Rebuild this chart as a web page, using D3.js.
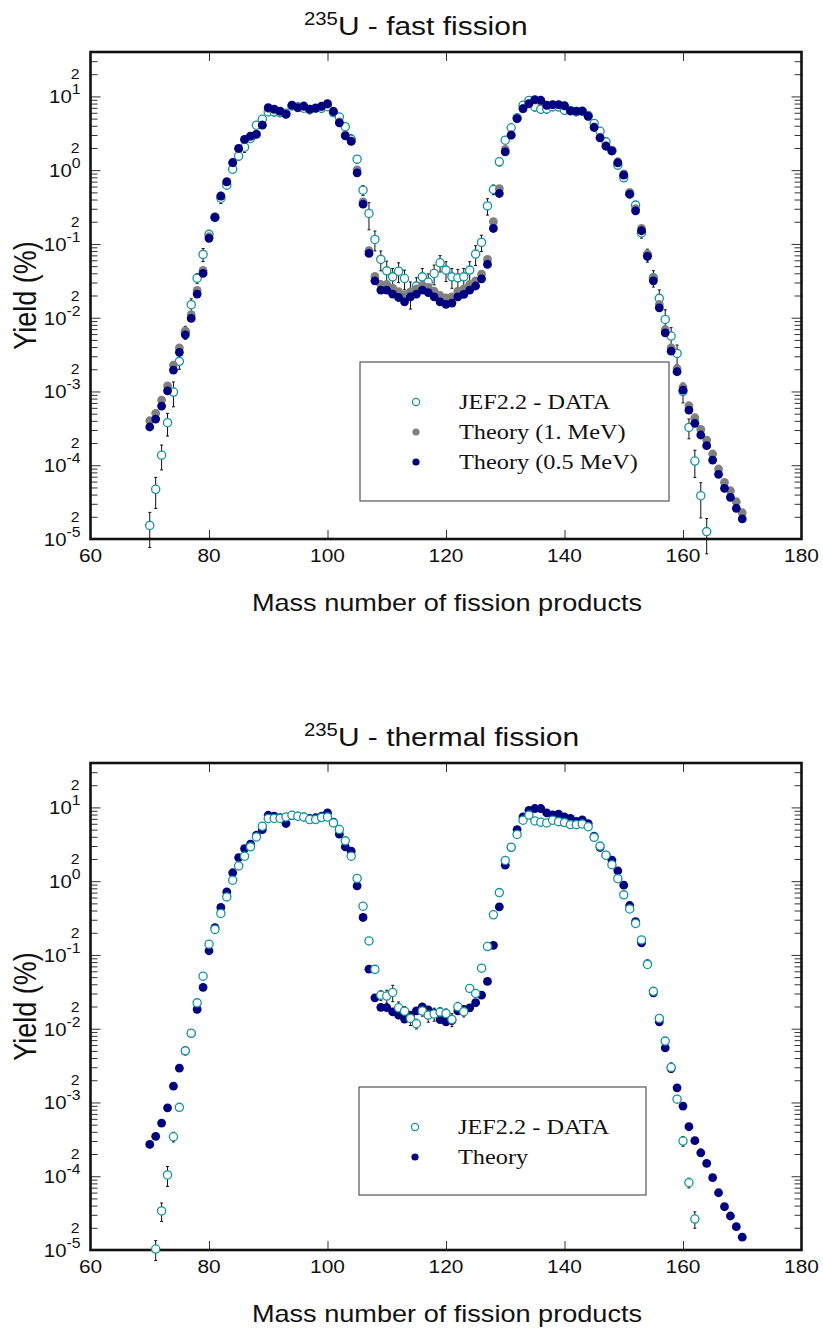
<!DOCTYPE html>
<html lang="en">
<head>
<meta charset="UTF-8">
<script src="https://d3js.org/d3.v7.min.js"></script>
<title>235U fission yields</title>
<style>
  body { margin:0; background:#fff; }
  svg { display:block; }
  .lab { font-family: "Liberation Sans", Arial, Helvetica, sans-serif; fill:#111; }
  .legend text { font-family: "Liberation Serif", "Times New Roman", serif; fill:#111; }
  .ticks line { stroke:#333; stroke-width:1; }
  .frame { fill:none; stroke:#111; stroke-width:2.6; }
</style>
</head>
<body>
<svg id="chart" width="823" height="1330"></svg>
<script>
// x axis ticks and y decades
const xTicks = [60, 80, 100, 120, 140, 160, 180];
const yDecades = [-5, -4, -3, -2, -1, 0, 1];

// 235U fast fission, JEF2.2 data, A = 70..164 (yield %)
const fastJefStart = 70;
const fastJef = [1.53e-5, 4.72e-5, 1.37e-4, 3.77e-4, 9.82e-4, 2.56e-3, 6.38e-3, 0.0150, 0.0344, 0.0721,
  0.135, 0.229, 0.417, 0.627, 1.03, 1.55, 2.05, 2.69, 4.07, 4.90,
  6.17, 6.17, 6.03, 5.89, 7.41, 7.24, 6.92, 6.61, 6.92, 6.92,
  7.24, 6.03, 5.25, 3.89, 2.63, 1.41, 0.536, 0.259, 0.115, 0.0617,
  0.0432, 0.0358, 0.0427, 0.0340, 0.0218, 0.0268, 0.0358, 0.0302, 0.0398, 0.0555,
  0.0442, 0.0358, 0.0347, 0.0358, 0.0442, 0.0728, 0.105, 0.328, 0.547, 1.30,
  2.55, 3.76, 5.13, 7.59, 8.83, 7.21, 6.71, 6.76, 7.21, 7.21,
  6.50, 6.46, 6.17, 6.31, 5.50, 4.30, 3.37, 2.42, 1.84, 1.17,
  0.787, 0.479, 0.336, 0.141, 0.0708, 0.0347, 0.0183, 9.48e-3, 5.64e-3, 3.28e-3,
  1.0e-3, 3.26e-4, 1.14e-4, 3.86e-5, 1.26e-5];
// relative uncertainty of the JEF points
const fastJefErr = [0.5, 0.45, 0.37, 0.34, 0.37, 0.22, 0.2, 0.2, 0.15, 0.2,
  0.12, 0.1, 0.15, 0.1, 0.1, 0.12, 0.15, 0.12, 0.1, 0.08,
  0.1, 0.12, 0.12, 0.1, 0.08, 0.1, 0.08, 0.12, 0.08, 0.12,
  0.08, 0.1, 0.08, 0.1, 0.15, 0.12, 0.15, 0.4, 0.3, 0.3,
  0.35, 0.3, 0.3, 0.3, 0.4, 0.3, 0.3, 0.3, 0.3, 0.25,
  0.3, 0.3, 0.3, 0.3, 0.3, 0.3, 0.25, 0.25, 0.15, 0.12,
  0.1, 0.1, 0.08, 0.08, 0.08, 0.12, 0.12, 0.12, 0.1, 0.1,
  0.12, 0.1, 0.1, 0.1, 0.1, 0.1, 0.1, 0.12, 0.1, 0.1,
  0.1, 0.12, 0.12, 0.15, 0.2, 0.25, 0.3, 0.35, 0.3, 0.3,
  0.3, 0.3, 0.4, 0.5, 0.5];

// theory, A = 70..170
const theoryStart = 70;
const fastTheory1 = [4.01e-4, 5.05e-4, 7.64e-4, 1.19e-3, 2.28e-3, 3.91e-3, 6.64e-3, 0.0110, 0.0234, 0.0437,
  0.126, 0.234, 0.45, 0.70, 1.26, 1.95, 2.58, 2.88, 3.10, 4.10,
  6.90, 6.60, 6.30, 5.80, 7.50, 7.00, 7.30, 6.70, 6.90, 7.30,
  7.80, 6.30, 4.50, 3.00, 2.50, 1.01, 0.372, 0.0813, 0.0363, 0.0282,
  0.0282, 0.0251, 0.0226, 0.0200, 0.0224, 0.0245, 0.0275, 0.0257, 0.0229, 0.0200,
  0.0186, 0.0191, 0.0229, 0.0245, 0.0282, 0.0316, 0.0389, 0.0617, 0.200, 0.562,
  1.91, 3.02, 5.00, 6.80, 7.90, 8.90, 8.70, 7.50, 7.70, 7.70,
  7.40, 6.30, 6.30, 6.30, 5.40, 3.85, 2.80, 2.15, 1.87, 1.30,
  0.89, 0.50, 0.30, 0.162, 0.073, 0.0347, 0.0151, 6.92e-3, 3.89e-3, 2.04e-3,
  1.15e-3, 6.40e-4, 4.40e-4, 3.06e-4, 2.19e-4, 1.42e-4, 8.89e-5, 5.86e-5, 4.51e-5, 3.20e-5,
  2.27e-5];
const fastTheory05 = [3.30e-4, 4.23e-4, 6.34e-4, 1.02e-3, 1.95e-3, 3.39e-3, 5.86e-3, 9.77e-3, 0.0209, 0.0398,
  0.119, 0.229, 0.445, 0.693, 1.27, 1.97, 2.61, 2.89, 3.05, 4.07,
  7.06, 6.71, 6.31, 5.69, 7.62, 7.06, 7.41, 6.71, 6.92, 7.35,
  7.98, 6.24, 4.39, 2.92, 2.45, 0.920, 0.346, 0.0743, 0.0316, 0.0237,
  0.0237, 0.0209, 0.0188, 0.0164, 0.0192, 0.0209, 0.0237, 0.0219, 0.0192, 0.0164,
  0.0152, 0.0158, 0.0192, 0.0207, 0.0237, 0.0269, 0.0337, 0.0527, 0.162, 0.483,
  1.77, 2.98, 5.01, 6.85, 8.00, 9.06, 8.87, 7.60, 7.76, 7.76,
  7.52, 6.37, 6.31, 6.31, 5.38, 3.79, 2.74, 2.11, 1.83, 1.26,
  0.855, 0.473, 0.281, 0.151, 0.0676, 0.0316, 0.0136, 6.24e-3, 3.52e-3, 1.85e-3,
  1.04e-3, 5.60e-4, 3.70e-4, 2.57e-4, 1.84e-4, 1.17e-4, 7.53e-5, 4.86e-5, 3.67e-5, 2.61e-5,
  1.87e-5];

// 235U thermal fission, JEF2.2 data, A = 71..162
const thermalJefStart = 71;
const thermalJef = [1.03e-5, 3.39e-5, 1.04e-4, 3.43e-4, 8.59e-4, 5.01e-3, 8.71e-3, 0.0224, 0.0516,
  0.140, 0.222, 0.365, 0.612, 1.03, 1.61, 2.18, 2.92, 3.98, 5.56,
  7.08, 7.08, 7.08, 7.43, 7.83, 7.59, 7.41, 6.85, 6.85, 7.29,
  7.41, 6.17, 5.01, 3.52, 2.18, 1.09, 0.458, 0.155, 0.0638, 0.0285,
  0.0277, 0.0310, 0.0192, 0.0173, 0.0138, 0.0117, 0.0174, 0.0153, 0.0158, 0.0168,
  0.0161, 0.0133, 0.0198, 0.0170, 0.0352, 0.0301, 0.0662, 0.130, 0.350, 0.700,
  1.91, 2.89, 4.30, 6.70, 7.87, 6.55, 6.31, 6.17, 6.71, 6.41,
  6.22, 5.85, 5.84, 5.96, 5.47, 3.93, 2.99, 2.25, 1.67, 1.08,
  0.653, 0.420, 0.267, 0.160, 0.0743, 0.0321, 0.0138, 6.79e-3, 2.99e-3, 1.11e-3,
  3.00e-4, 8.17e-5, 2.63e-5];
const thermalJefErr = [0.3, 0.28, 0.3, 0.15, 0.06, 0.12, 0.08, 0.05, 0.05,
  0.04, 0.04, 0.04, 0.04, 0.04, 0.04, 0.04, 0.04, 0.04, 0.04,
  0.04, 0.04, 0.04, 0.04, 0.04, 0.04, 0.04, 0.04, 0.04, 0.04,
  0.04, 0.04, 0.04, 0.04, 0.04, 0.04, 0.04, 0.06, 0.1, 0.15,
  0.2, 0.25, 0.2, 0.15, 0.2, 0.15, 0.15, 0.2, 0.2, 0.15,
  0.15, 0.2, 0.15, 0.15, 0.1, 0.1, 0.08, 0.04, 0.04, 0.04,
  0.04, 0.04, 0.04, 0.04, 0.04, 0.04, 0.04, 0.04, 0.04, 0.04,
  0.04, 0.04, 0.04, 0.04, 0.04, 0.04, 0.04, 0.04, 0.04, 0.04,
  0.04, 0.04, 0.04, 0.04, 0.04, 0.04, 0.08, 0.05, 0.15, 0.06,
  0.15, 0.15, 0.25];
const thermalTheory = [2.70e-4, 3.48e-4, 5.26e-4, 8.47e-4, 1.67e-3, 2.92e-3, 5.01e-3, 8.63e-3, 0.0183, 0.0363,
  0.114, 0.234, 0.441, 0.716, 1.30, 2.09, 2.77, 3.17, 4.20, 5.01,
  7.83, 7.59, 7.24, 6.05, 7.76, 7.59, 7.41, 7.08, 7.24, 7.59,
  8.41, 6.31, 4.34, 2.92, 2.55, 0.863, 0.322, 0.0641, 0.0262, 0.0195,
  0.0193, 0.0169, 0.0153, 0.0135, 0.0153, 0.0174, 0.0198, 0.0180, 0.0162, 0.0133,
  0.0124, 0.0129, 0.0174, 0.0182, 0.0192, 0.0225, 0.0285, 0.0437, 0.135, 0.449,
  1.65, 2.86, 5.01, 7.43, 9.12, 9.66, 9.66, 8.41, 7.94, 8.13,
  7.41, 7.08, 6.46, 6.76, 6.03, 4.07, 2.86, 2.25, 1.93, 1.38,
  0.883, 0.468, 0.282, 0.146, 0.0759, 0.0307, 0.0124, 5.51e-3, 2.88e-3, 1.58e-3,
  8.93e-4, 4.69e-4, 3.03e-4, 2.08e-4, 1.49e-4, 9.55e-5, 5.97e-5, 3.86e-5, 2.89e-5, 2.07e-5,
  1.49e-5];

const COL_JEF = "#13939e", COL_T1 = "#808080", COL_T05 = "#00007f";
const SX = 1.13;   // the original lettering is a bit wide
const W = 711, H = 487;
const svg = d3.select("#chart");

const x = d3.scaleLinear().domain([60, 180]).range([0, W]);
const y = d3.scaleLog().domain([1e-5, 40]).range([H, 0]);

const majorY = yDecades.map(e => Math.pow(10, e));
const minorY = [];
yDecades.forEach(e => { for (let m = 2; m <= 9; m++) { const v = m * Math.pow(10, e); if (v < 40) minorY.push(v); } });

function toPoints(vals, start, errs) {
  return vals.map((v, i) => ({ a: start + i, v: v, e: errs ? errs[i] : 0 }));
}

function drawPanel(top, title, layers, legend) {
  const g = svg.append("g").attr("transform", `translate(90.5,${top})`);

  // ticks, all pointing inward
  const axes = [
    [d3.axisLeft(y).tickValues(majorY).tickSize(-10), 0, 0],
    [d3.axisLeft(y).tickValues(minorY).tickSize(-7), 0, 0],
    [d3.axisRight(y).tickValues(majorY).tickSize(-10), W, 0],
    [d3.axisRight(y).tickValues(minorY).tickSize(-7), W, 0],
    [d3.axisTop(x).tickValues(xTicks.slice(1, -1)).tickSize(-9), 0, 0],
    [d3.axisBottom(x).tickValues(xTicks.slice(1, -1)).tickSize(-9), 0, H]
  ];
  axes.forEach(([ax, tx, ty]) => {
    const a = g.append("g").attr("class", "ticks").attr("transform", `translate(${tx},${ty})`)
      .call(ax.tickFormat(""));
    a.select(".domain").remove();
  });

  g.append("rect").attr("class", "frame").attr("width", W).attr("height", H);

  // y labels: 10^n and the little "2"
  yDecades.forEach(e => {
    const t = g.append("text").attr("class", "lab")
      .attr("transform", `translate(-10,${y(Math.pow(10, e)) + 7}) scale(${SX},1)`)
      .attr("text-anchor", "end").style("font-size", "18px");
    t.append("tspan").text("10");
    t.append("tspan").attr("dy", -9).style("font-size", "14px").text(e);
    g.append("text").attr("class", "lab")
      .attr("transform", `translate(-11,${y(2 * Math.pow(10, e)) + 5}) scale(${SX},1)`)
      .attr("text-anchor", "end").style("font-size", "14px").text("2");
  });

  // x labels
  xTicks.forEach(v => {
    g.append("text").attr("class", "lab")
      .attr("transform", `translate(${x(v)},${H + 23}) scale(${SX},1)`)
      .attr("text-anchor", "middle").style("font-size", "18.5px").text(v);
  });

  g.append("text").attr("class", "lab")
    .attr("transform", `translate(${447 - 90.5},${H + 72}) scale(${SX},1)`)
    .attr("text-anchor", "middle").style("font-size", "24px").text("Mass number of fission products");

  g.append("text").attr("class", "lab")
    .attr("transform", `translate(${36 - 90.5},${H / 2}) rotate(-90) scale(1,${SX})`)
    .attr("text-anchor", "middle").style("font-size", "27px").text("Yield (%)");

  const tt = g.append("text").attr("class", "lab")
    .attr("transform", `translate(${304 - 90.5},-17) scale(${SX},1)`)
    .style("font-size", "26.5px");
  tt.append("tspan").attr("dy", -10).style("font-size", "18px").text("235");
  tt.append("tspan").attr("dy", 10).text(title);

  // data layers
  layers.forEach(L => {
    const pts = L.points;
    if (L.open) {
      g.append("g").selectAll("path").data(pts).join("path")
        .attr("d", d => {
          const cx = x(d.a), y1 = y(d.v * (1 + d.e)), y2 = y(d.v * (1 - d.e));
          return `M${cx},${y1}V${y2}M${cx - 1.5},${y1}h3M${cx - 1.5},${y2}h3`;
        })
        .attr("stroke", "#111").attr("stroke-width", 1).attr("fill", "none");
      g.append("g").selectAll("circle").data(pts).join("circle")
        .attr("cx", d => x(d.a)).attr("cy", d => y(d.v)).attr("r", 4.1)
        .attr("fill", "#fff").attr("stroke", L.color).attr("stroke-width", 1.3);
    } else {
      g.append("g").selectAll("circle").data(pts).join("circle")
        .attr("cx", d => x(d.a)).attr("cy", d => y(d.v)).attr("r", 4.4)
        .attr("fill", L.color);
    }
  });

  // legend
  const lg = svg.append("g").attr("class", "legend");
  lg.append("rect").attr("x", legend.x).attr("y", legend.y).attr("width", legend.w).attr("height", legend.h)
    .attr("fill", "#fff").attr("stroke", "#555").attr("stroke-width", 1.2);
  legend.items.forEach((it, i) => {
    const cy = legend.y + legend.first + i * 30;
    const c = lg.append("circle").attr("cx", legend.x + 56).attr("cy", cy).attr("r", 3.6);
    if (it.open) c.attr("fill", "#fff").attr("stroke", it.color).attr("stroke-width", 1.2);
    else c.attr("fill", it.color);
    lg.append("text").attr("transform", `translate(${legend.x + 99},${cy + 7}) scale(${SX},1)`)
      .style("font-size", "21.5px").text(it.label);
  });
}

drawPanel(52, "U - fast fission", [
  { points: toPoints(fastJef, fastJefStart, fastJefErr), color: COL_JEF, open: true },
  { points: toPoints(fastTheory1, theoryStart), color: COL_T1 },
  { points: toPoints(fastTheory05, theoryStart), color: COL_T05 }
], {
  x: 360, y: 362, w: 309, h: 139, first: 40,
  items: [
    { label: "JEF2.2 - DATA", color: COL_JEF, open: true },
    { label: "Theory (1. MeV)", color: COL_T1 },
    { label: "Theory (0.5 MeV)", color: COL_T05 }
  ]
});

drawPanel(763, "U - thermal fission", [
  { points: toPoints(thermalTheory, theoryStart), color: COL_T05 },
  { points: toPoints(thermalJef, thermalJefStart, thermalJefErr), color: COL_JEF, open: true }
], {
  x: 359, y: 1087, w: 287, h: 108, first: 40,
  items: [
    { label: "JEF2.2 - DATA", color: COL_JEF, open: true },
    { label: "Theory", color: COL_T05 }
  ]
});
</script>
</body>
</html>
